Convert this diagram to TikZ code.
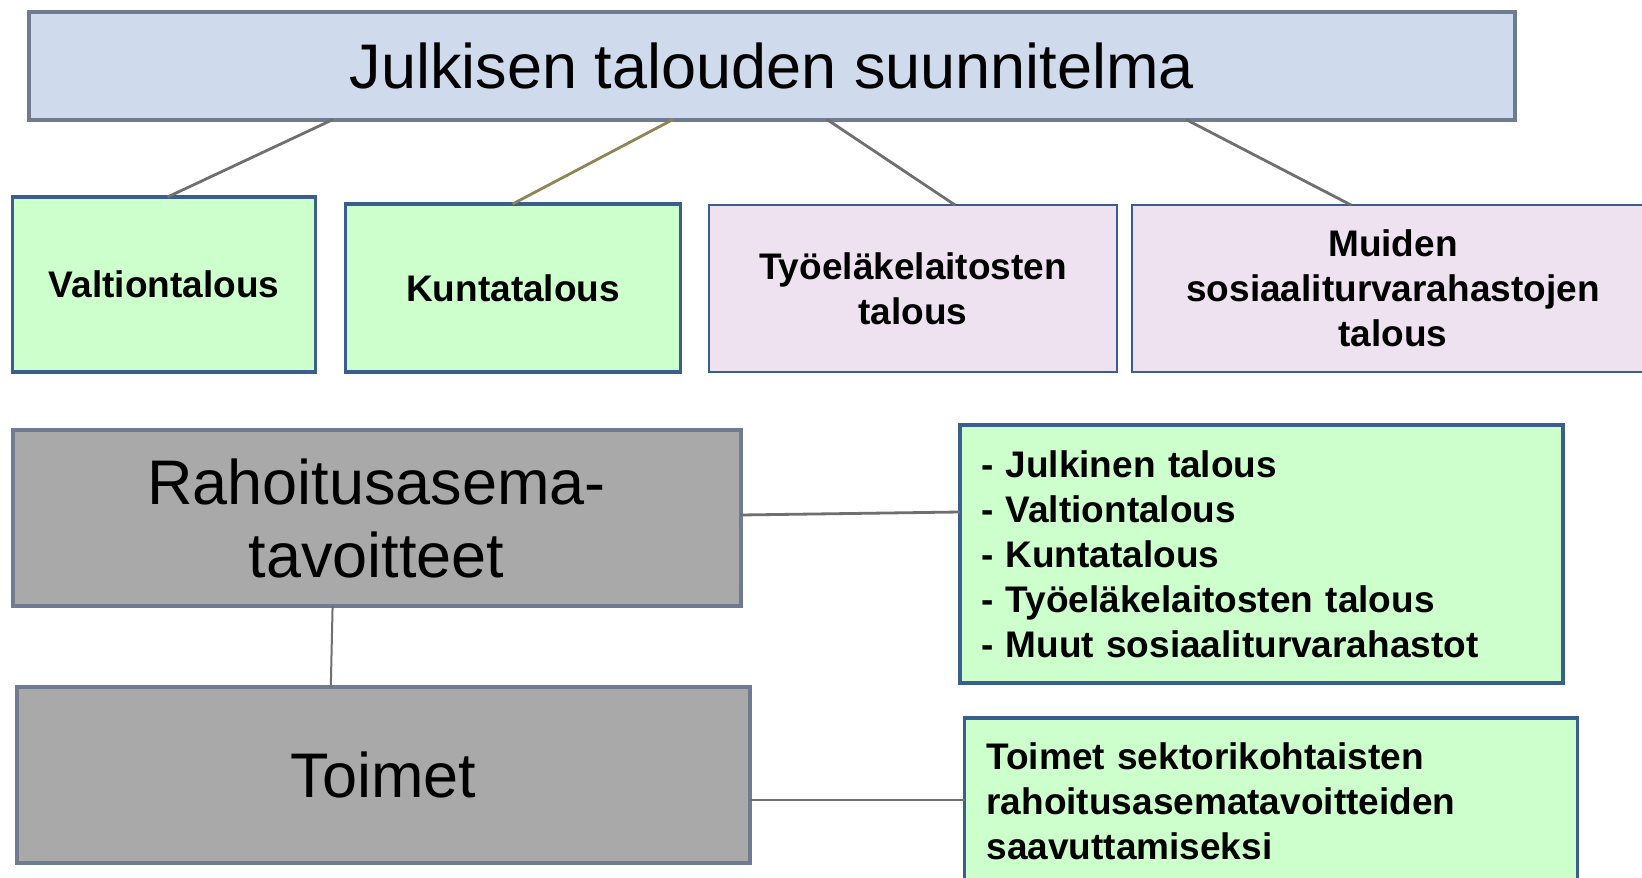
\documentclass[tikz,border=0pt]{standalone}
\usepackage{fontspec}
\setmainfont{Liberation Sans}
\begin{document}
\begin{tikzpicture}[x=1pt,y=-1pt,
  box/.style={rectangle,anchor=north west,outer sep=0pt,inner sep=0pt,align=center,text=black},
  titlebox/.style={box,fill=titlefill,draw=grayblue,line width=4pt,font=\fontsize{63}{73}\selectfont},
  greenbox/.style={box,fill=greenfill,draw=darkblue,line width=3.5pt,font=\fontsize{37}{45}\selectfont\bfseries},
  pinkbox/.style={box,fill=pinkfill,draw=darkblue,line width=2.5pt,font=\fontsize{37}{45}\selectfont\bfseries},
  graybox/.style={box,fill=grayfill,draw=grayblue,line width=4pt,font=\fontsize{63}{73}\selectfont},
  conn/.style={draw=conngray,line width=2.8pt},
  connolive/.style={draw=olive,line width=2.8pt}
]
\definecolor{titlefill}{HTML}{CFDAEC}
\definecolor{grayblue}{HTML}{6E7B91}
\definecolor{greenfill}{HTML}{CCFFCC}
\definecolor{darkblue}{HTML}{3A5F8F}
\definecolor{pinkfill}{HTML}{EEE2F0}
\definecolor{grayfill}{HTML}{A9A9A9}
\definecolor{conngray}{HTML}{6F6F6F}
\definecolor{olive}{HTML}{8F8456}

\useasboundingbox (0,0) rectangle (1642,878);
\clip (0,0) rectangle (1642,878);
\fill[white] (0,0) rectangle (1642,878);

\node[titlebox,minimum width=1486pt,minimum height=108pt] (title) at (29,11.5) {Julkisen talouden suunnitelma};

\node[greenbox,minimum width=303pt,minimum height=175pt] (valt) at (12.6,197) {Valtiontalous};
\node[greenbox,minimum width=335pt,minimum height=168pt] (kunta) at (345.6,204) {Kuntatalous};
\node[pinkbox,minimum width=408pt,minimum height=167pt] (tyo) at (709,205) {Työeläkelaitosten\\talous};
\node[pinkbox,minimum width=522pt,minimum height=167pt] (muid) at (1132,205) {Muiden\\sosiaaliturvarahastojen\\talous};

\node[graybox,minimum width=728pt,minimum height=176pt] (raho) at (12.6,430) {Rahoitusasema-\\tavoitteet};
\node[graybox,minimum width=733pt,minimum height=176pt] (toim) at (16.8,687) {Toimet};

\node[greenbox,minimum width=603pt,minimum height=258pt,align=left,text width=561pt,inner xsep=21pt] (list) at (960,425)
  {- Julkinen talous\\- Valtiontalous\\- Kuntatalous\\- Työeläkelaitosten talous\\- Muut sosiaaliturvarahastot};
\node[greenbox,minimum width=613pt,minimum height=166pt,align=left,text width=569pt,inner xsep=22pt] (sekt) at (964.5,718)
  {Toimet sektorikohtaisten\\rahoitusasematavoitteiden\\saavuttamiseksi};

\draw[conn] ([xshift=304pt]title.south west) -- ([xshift=155pt]valt.north west);
\draw[connolive] ([xshift=644pt]title.south west) -- ([xshift=167pt]kunta.north west);
\draw[conn] ([xshift=798pt]title.south west) -- ([xshift=246pt]tyo.north west);
\draw[conn] ([xshift=1157pt]title.south west) -- ([xshift=219pt]muid.north west);
\draw[conn] ([yshift=-85pt]raho.north east) -- ([yshift=-87pt]list.north west);
\draw[conn,line width=2pt] ([xshift=320pt]raho.south west) -- ([xshift=314pt]toim.north west);
\draw[conn] ([yshift=-113pt]toim.north east) -- ([yshift=-82pt]sekt.north west);
\end{tikzpicture}
\end{document}
